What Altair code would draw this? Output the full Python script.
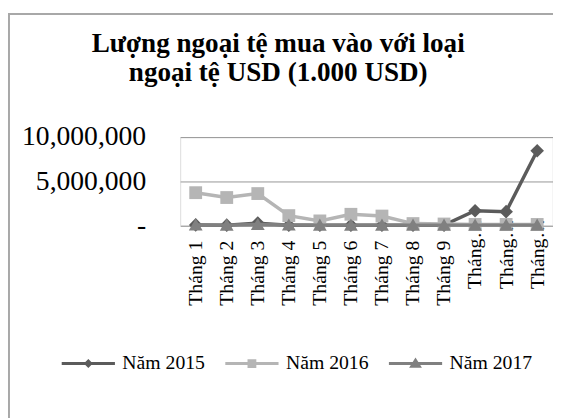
import altair as alt
import pandas as pd

months = ["Tháng 1", "Tháng 2", "Tháng 3", "Tháng 4", "Tháng 5", "Tháng 6",
          "Tháng 7", "Tháng 8", "Tháng 9", "Tháng 10", "Tháng 11", "Tháng 12"]
series = ["Năm 2015", "Năm 2016", "Năm 2017"]
v2015 = [50000, 20000, 250000, 0, 20000, 20000, 20000, 20000, 20000, 1650000, 1550000, 8450000]
v2016 = [3700000, 3150000, 3600000, 1100000, 500000, 1250000, 1050000, 200000, 150000, 100000, 100000, 100000]
v2017 = [30000, 20000, 100000, 30000, 20000, 20000, 20000, 20000, 20000, 20000, 20000, 20000]
colors = ["#5b5b5b", "#b5b5b5", "#808080"]
title_lines = ["Lượng ngoại tệ mua vào với loại", "ngoại tệ USD (1.000 USD)"]

rows = []
for s, vals in zip(series, [v2015, v2016, v2017]):
    for m, v in zip(months, vals):
        rows.append({"Tháng": m, "Năm": s, "value": v})
df = pd.DataFrame(rows)

FONT = "Liberation Serif"
NB = "\u00a0"

# marker paths for the plot
mk_plot = [
    "M0,-1L1,0L0,1L-1,0Z",
    "M-1,-1L1,-1L1,1L-1,1Z",
    "M0,-0.95L1,0.8L-1,0.8Z",
]
mk_size = [190, 169, 196]
# legend symbols: line segment + marker
mk_leg = [
    "M-1,0L1,0M0,-0.09L0.09,0L0,0.09L-0.09,0Z",
    "M-1,0L1,0M-0.11,-0.11L0.11,-0.11L0.11,0.11L-0.11,0.11Z",
    "M-1,0L1,0M0,-0.12L0.14,0.1L-0.14,0.1Z",
]

x_enc = alt.X(
    "Tháng:N", sort=months, title=None,
    scale=alt.Scale(type="point", padding=0.5),
    axis=alt.Axis(
        labelAngle=-90, labelFont=FONT, labelFontSize=20, labelColor="black",
        labelExpr="length(datum.value) > 7 ? 'Tháng…' : datum.value",
        labelPadding={"condition": {"test": "length(datum.value) > 7", "value": -7}, "value": 15},
        ticks=False, domain=False, grid=False, labelOverlap=False, labelBound=False,
        labelFlush=False, labelLimit=0,
    ),
)
y_enc = alt.Y(
    "value:Q", title=None,
    scale=alt.Scale(domain=[0, 10000000], nice=False, zero=True),
    axis=alt.Axis(
        values=[0, 5000000, 10000000], labelFont=FONT, labelFontSize=28, labelColor="black",
        labelExpr="datum.value == 0 ? '-" + NB + NB + "' : format(datum.value, ',')",
        labelPadding=35, ticks=False, domain=False, grid=True,
        gridColor="#959595", gridWidth=1, labelFlush=False, labelBound=False,
    ),
)

base = alt.Chart(df).encode(x=x_enc, y=y_enc)

one = pd.DataFrame({"f": [0]})
frame = alt.Chart(one).mark_rect(
    fill="transparent", stroke="#a8a8a8", strokeWidth=2
).encode(
    x=alt.value(-173.7), y=alt.value(-125), x2=alt.value(700), y2=alt.value(600)
)
title = alt.Chart(one).mark_text(
    font=FONT, fontSize=27.5, fontWeight="bold", color="black",
    align="center", baseline="alphabetic", lineHeight=29,
).encode(
    x=alt.value(99.5), y=alt.value(-86), text=alt.value(title_lines)
)

layers = [frame, title]
for s, c, p, sz in zip(series, colors, mk_plot, mk_size):
    sub = base.transform_filter(alt.datum["Năm"] == s)
    layers.append(sub.mark_line(color=c, strokeWidth=3.5))
    layers.append(sub.mark_point(shape=p, size=sz, filled=True, color=c, opacity=1, strokeWidth=0))

leg = dict(
    title=None, orient="none", legendX=-121.7, legendY=201, direction="horizontal",
    symbolSize=2916, symbolStrokeWidth=3, symbolOpacity=1, labelFont=FONT,
    labelFontSize=20, labelColor="black", labelOffset=6, columnPadding=14,
    labelLimit=0,
)
legend_layer = base.mark_point(filled=True, opacity=0, strokeWidth=3).encode(
    color=alt.Color("Năm:N", scale=alt.Scale(domain=series, range=colors), legend=alt.Legend(**leg)),
    stroke=alt.Stroke("Năm:N", scale=alt.Scale(domain=series, range=colors), legend=alt.Legend(**leg)),
    shape=alt.Shape("Năm:N", scale=alt.Scale(domain=series, range=mk_leg), legend=alt.Legend(**leg)),
)
layers.append(legend_layer)

chart = alt.layer(*layers).properties(
    width=378, height=89.5,
    padding={"left": 174.7, "top": 128, "right": 0.3, "bottom": 192.5},
    autosize=alt.AutoSizeParams(type="none"),
).configure_view(stroke="#959595", strokeWidth=1).configure(background="white")

chart.save("out.html", embed_options={"renderer": "svg", "actions": False})
